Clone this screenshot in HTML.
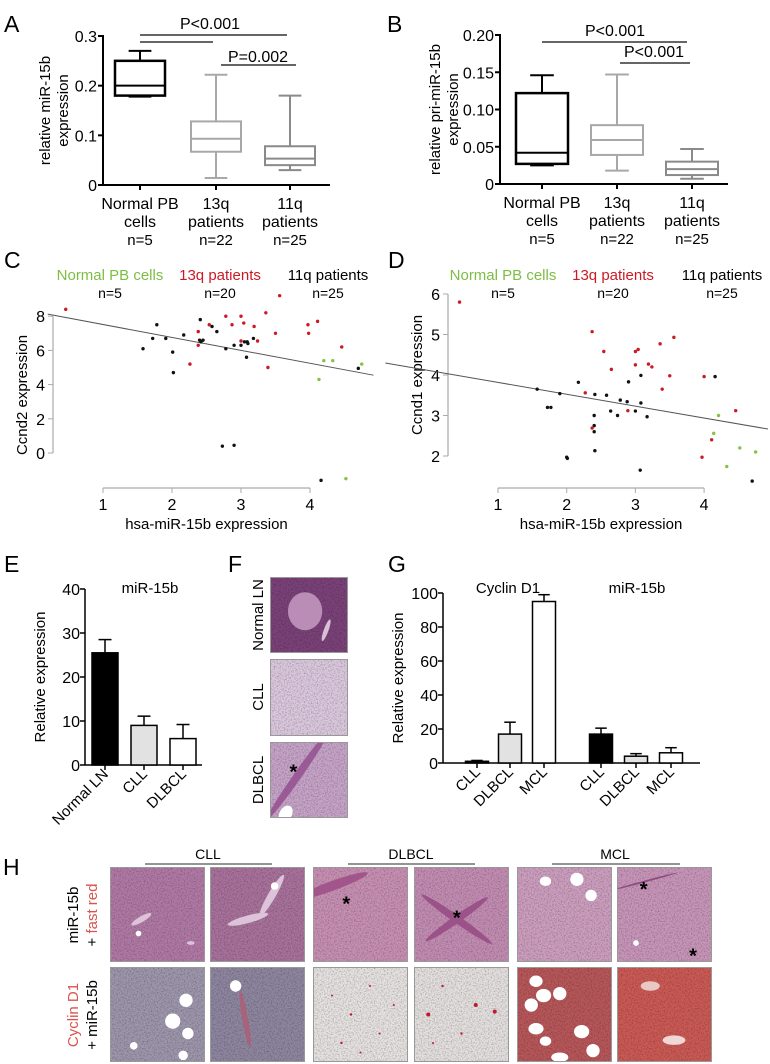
<!DOCTYPE html>
<html><head><meta charset="utf-8"><style>
body{margin:0;background:#fff}
svg{display:block;font-family:"Liberation Sans",Arial,sans-serif}
</style></head><body>
<svg id="fig" width="770" height="1064" viewBox="0 0 770 1064" xmlns="http://www.w3.org/2000/svg">
<defs>
<filter id="noise" x="0" y="0" width="100%" height="100%"><feTurbulence type="fractalNoise" baseFrequency="0.7" numOctaves="2" seed="3"/><feColorMatrix type="matrix" values="0 0 0 0 0  0 0 0 0 0  0 0 0 0 0  0 0 0 -0.6 0.35"/><feComposite in2="SourceGraphic" operator="in"/></filter>
</defs>
<g id="root"></g>
</svg>
<script>
// ---- Panel A data ----
const catsA = ["Normal PB","13q","11q"];
const boxA_max = [0.27,0.222,0.18];
const boxA_q3 = [0.25,0.128,0.078];
const boxA_med = [0.2,0.093,0.053];
const boxA_q1 = [0.18,0.067,0.04];
const boxA_min = [0.178,0.014,0.03];
const ticksA = [0,0.1,0.2,0.3];
const tickLabelsA = ["0","0.1","0.2","0.3"];
// ---- Panel B data ----
const catsB = ["Normal PB","13q","11q"];
const boxB_max = [0.146,0.147,0.047];
const boxB_q3 = [0.122,0.079,0.030];
const boxB_med = [0.042,0.059,0.020];
const boxB_q1 = [0.027,0.039,0.012];
const boxB_min = [0.025,0.018,0.007];
const ticksB = [0,0.05,0.10,0.15,0.20];
const tickLabelsB = ["0","0.05","0.10","0.15","0.20"];
// ---- Panel C data ----
const cGreenX = [4.13,4.2,4.33,4.75,4.52];
const cGreenY = [4.3,5.4,5.4,5.2,-1.5];
const cRedX = [0.46,2.38,2.54,2.78,2.87,3.0,3.04,3.19,3.36,3.56,3.5,3.97,4.11,3.98,2.26,2.38,3.0,3.24,3.39,4.46];
const cRedY = [8.4,7.1,7.5,8.0,7.5,8.0,7.6,7.4,8.2,9.2,7.0,7.5,7.7,7.0,5.2,6.3,6.55,6.55,5.0,6.2];
const cBlackX = [1.78,1.72,1.91,2.17,2.41,2.58,2.65,1.58,2.01,2.02,2.45,2.42,2.78,2.9,3.0,3.09,3.1,3.18,3.08,4.7,4.16,2.73,2.9,2.4,3.05];
const cBlackY = [7.5,6.7,6.7,6.9,7.8,7.4,7.1,6.1,5.9,4.7,6.6,6.5,6.1,6.3,6.3,6.5,6.4,6.7,5.6,4.95,-1.6,0.4,0.45,6.6,6.5];
const cFit = [8.27,-0.756]; // intercept, slope
const cYTicks = [0,2,4,6,8];
const cXTicks = [1,2,3,4];
// ---- Panel D data ----
const dGreenX = [4.21,4.14,4.52,4.75,4.33];
const dGreenY = [3.0,2.56,2.2,2.1,1.74];
const dRedX = [0.44,2.37,2.54,3.0,3.04,3.36,3.56,3.0,3.19,3.24,2.65,3.5,4.0,3.39,2.27,2.89,4.46,2.37,4.11,3.97];
const dRedY = [5.8,5.07,4.58,4.58,4.63,4.77,4.93,4.25,4.27,4.2,4.14,3.98,3.96,3.65,3.56,3.12,3.12,2.69,2.4,1.97];
const dBlackX = [1.57,1.72,1.77,1.9,2.17,2.0,2.01,2.4,2.41,2.4,2.4,2.41,2.58,2.64,2.74,2.78,2.88,2.9,3.0,3.08,3.08,3.17,3.07,4.16,4.7];
const dBlackY = [3.65,3.2,3.2,3.54,3.82,1.97,1.94,3.0,3.52,2.75,2.6,2.13,3.5,3.11,3.0,3.38,3.34,3.83,3.11,3.31,3.99,2.97,1.65,3.96,1.38];
const dFit = [4.11,-0.293];
const dYTicks = [2,3,4,5,6];
const dXTicks = [1,2,3,4];
// ---- Panel E data ----
const catsE = ["Normal LN","CLL","DLBCL"];
const valsE = [25.5,9,6];
const errE = [3,2.1,3.2];
const ticksE = [0,10,20,30,40];
// ---- Panel G data ----
const catsG = ["CLL","DLBCL","MCL","CLL","DLBCL","MCL"];
const valsG = [1,17,95,17,4,6];
const errG = [0.5,7,4,3.5,1.5,3];
const ticksG = [0,20,40,60,80,100];

const NS="http://www.w3.org/2000/svg";
const root=document.getElementById('root');
function mk(tag,attrs,parent,txt){const e=document.createElementNS(NS,tag);for(const k in attrs)e.setAttribute(k,attrs[k]);if(txt!==undefined)e.textContent=txt;(parent||root).appendChild(e);return e;}
function grp(name){const g=mk('g',{});


return g;}

// panel letters
[["A",4,32],["B",387,32],["C",4,268],["D",388,268],["E",4,572],["F",228,572],["G",388,572],["H",3,875]].forEach(p=>{
const t=mk('text',{x:p[1],y:p[2],'font-size':23,fill:'#000'},root,p[0]);


});

// ---------- box plots ----------
function boxPanel(o){
const g=grp(o.name);
const ys=v=>o.y0-(v/o.ymax)*(o.y0-o.y1);
mk('line',{x1:o.ax,y1:o.y1-1,x2:o.ax,y2:o.y0,stroke:'#000','stroke-width':2},g);
mk('line',{x1:o.ax,y1:o.y0,x2:o.xend,y2:o.y0,stroke:'#000','stroke-width':2},g);
o.ticks.forEach((v,i)=>{
mk('line',{x1:o.ax-5,y1:ys(v),x2:o.ax,y2:ys(v),stroke:'#000','stroke-width':2},g);
const t=mk('text',{x:o.ax-6,y:ys(v)+6,'font-size':16,'text-anchor':'end'},g,o.tickLabels[i]);


});
const cols=['#000','#a8a8a8','#8a8a8a'];
o.cx.forEach((cx,i)=>{
mk('line',{x1:cx,y1:o.y0,x2:cx,y2:o.y0+5,stroke:'#000','stroke-width':2},g);
const b=mk('g',{fill:'none',stroke:cols[i],'stroke-width':2},g);


const w=o.bw/2;
mk('line',{x1:cx,y1:ys(o.max[i]),x2:cx,y2:ys(o.q3[i])},b);
mk('line',{x1:cx-w/2.2,y1:ys(o.max[i]),x2:cx+w/2.2,y2:ys(o.max[i])},b);
mk('line',{x1:cx,y1:ys(o.min[i]),x2:cx,y2:ys(o.q1[i])},b);
mk('line',{x1:cx-w/2.2,y1:ys(o.min[i]),x2:cx+w/2.2,y2:ys(o.min[i])},b);
mk('rect',{x:cx-w,y:ys(o.q3[i]),width:o.bw,height:ys(o.q1[i])-ys(o.q3[i]),'stroke-width':i==0?2.5:2},b);
mk('line',{x1:cx-w,y1:ys(o.med[i]),x2:cx+w,y2:ys(o.med[i])},b);
});
const lab=[["Normal PB","cells","n=5"],["13q","patients","n=22"],["11q","patients","n=25"]];
o.cx.forEach((cx,i)=>{lab[i].forEach((s,j)=>{
const t=mk('text',{x:cx,y:o.y0+24+j*18,'font-size':j==2?15:16,'text-anchor':'middle'},g,s);


});});
const yt=mk('text',{transform:`translate(${o.ytx},${(o.y0+o.y1)/2}) rotate(-90)`,'font-size':15,'text-anchor':'middle'},g);


mk('tspan',{x:0,dy:0},yt,o.ytitle);mk('tspan',{x:0,dy:18},yt,'expression');
o.sig.forEach(s=>{mk('line',{x1:s[0],y1:s[2],x2:s[1],y2:s[2],stroke:'#333','stroke-width':1.5},g);});
o.sigText.forEach(s=>{const t=mk('text',{x:s[0],y:s[1],'font-size':16,'text-anchor':'middle'},g,s[2]);

});
}
boxPanel({name:'panel-a-boxplot',ax:103,y0:185,y1:36,ymax:0.3,xend:330,cx:[140,216,290],bw:50,ytx:50,
max:boxA_max,q3:boxA_q3,med:boxA_med,q1:boxA_q1,min:boxA_min,ticks:ticksA,tickLabels:tickLabelsA,ytitle:'relative miR-15b',
sig:[[140,287,35],[140,213,42],[221,296,65]],sigText:[[210,29,'P<0.001'],[258,62,'P=0.002']]});
boxPanel({name:'panel-b-boxplot',ax:500,y0:184,y1:35,ymax:0.2,xend:728,cx:[542,617,692],bw:52,ytx:440,
max:boxB_max,q3:boxB_q3,med:boxB_med,q1:boxB_q1,min:boxB_min,ticks:ticksB,tickLabels:tickLabelsB,ytitle:'relative pri-miR-15b',
sig:[[542,687,42],[620,690,63]],sigText:[[615,36,'P<0.001'],[654,57,'P<0.001']]});

// ---------- scatter panels ----------
function scatter(o){
const g=grp(o.name);
const sx=v=>o.x1px+(v-1)*o.xs, sy=v=>o.y0px-(v-o.ymin)*o.ys;
mk('line',{x1:o.ax,y1:sy(o.yTicks[o.yTicks.length-1]),x2:o.ax,y2:sy(o.yTicks[0]),stroke:'#aaa','stroke-width':1.2},g);
o.yTicks.forEach(v=>{mk('line',{x1:o.ax-5,y1:sy(v),x2:o.ax,y2:sy(v),stroke:'#aaa'},g);
const t=mk('text',{x:o.ax-8,y:sy(v)+6,'font-size':16,'text-anchor':'end'},g,String(v));

});
mk('line',{x1:sx(o.xTicks[0]),y1:o.xaY,x2:sx(o.xTicks[o.xTicks.length-1]),y2:o.xaY,stroke:'#aaa','stroke-width':1.2},g);
o.xTicks.forEach(v=>{mk('line',{x1:sx(v),y1:o.xaY,x2:sx(v),y2:o.xaY+5,stroke:'#aaa'},g);
const t=mk('text',{x:sx(v),y:o.xaY+22,'font-size':16,'text-anchor':'middle'},g,String(v));

});
const xt=mk('text',{x:(sx(1)+sx(4))/2,y:o.xaY+41,'font-size':15,'text-anchor':'middle'},g,'hsa-miR-15b expression');


const yt=mk('text',{transform:`translate(${o.ax-26},${o.ytitleY}) rotate(-90)`,'font-size':15,'text-anchor':'middle'},g,o.ytitle);


const fl=mk('line',{x1:sx(o.fx[0]),y1:sy(o.fit[0]+o.fit[1]*o.fx[0]),x2:sx(o.fx[1]),y2:sy(o.fit[0]+o.fit[1]*o.fx[1]),stroke:'#555','stroke-width':1},g);


[[o.bx,o.by,'#111','black'],[o.rx,o.ry,'#cc1a24','red'],[o.gx,o.gy,'#84c341','green']].forEach(s=>{
s[0].forEach((x,i)=>{const c=mk('circle',{cx:sx(x),cy:sy(s[1][i]),r:1.7,fill:s[2]},g);

});});
[["Normal PB cells",'#7dbd45',"n=5"],["13q patients",'#cc1a24',"n=20"],["11q patients",'#000',"n=25"]].forEach((l,i)=>{
const t=mk('text',{x:o.legX[i],y:280,'font-size':15,'text-anchor':'middle',fill:l[1]},g,l[0]);


const n=mk('text',{x:o.legX[i],y:298,'font-size':14,'text-anchor':'middle'},g,l[2]);

});
}
scatter({name:'panel-c-scatter',ax:53,x1px:103,xs:69,y0px:453,ymin:0,ys:17.1,xaY:488,yTicks:cYTicks,xTicks:cXTicks,
ytitle:'Ccnd2 expression',ytitleY:395,fit:cFit,fx:[0.2,4.92],bx:cBlackX,by:cBlackY,rx:cRedX,ry:cRedY,gx:cGreenX,gy:cGreenY,legX:[110,220,328]});
scatter({name:'panel-d-scatter',ax:448,x1px:498,xs:68.7,y0px:456,ymin:2,ys:40.5,xaY:488,yTicks:dYTicks,xTicks:dXTicks,
ytitle:'Ccnd1 expression',ytitleY:375,fit:dFit,fx:[-0.64,4.93],bx:dBlackX,by:dBlackY,rx:dRedX,ry:dRedY,gx:dGreenX,gy:dGreenY,legX:[503,613,722]});

// ---------- bar panels ----------
function bars(o){
const g=grp(o.name);
const sy=v=>o.y0-(v/o.ymax)*(o.y0-o.y1);
mk('line',{x1:o.ax,y1:o.y1,x2:o.ax,y2:o.y0,stroke:'#000','stroke-width':1.5},g);
mk('line',{x1:o.ax,y1:o.y0,x2:o.xend,y2:o.y0,stroke:'#000','stroke-width':1.5},g);
o.ticks.forEach(v=>{mk('line',{x1:o.ax-5,y1:sy(v),x2:o.ax,y2:sy(v),stroke:'#000','stroke-width':1.5},g);
const t=mk('text',{x:o.ax-5,y:sy(v)+6,'font-size':16,'text-anchor':'end'},g,String(v));

});
o.cats.forEach((c,i)=>{const cx=o.cx[i],w=o.bw;
mk('line',{x1:cx,y1:sy(o.vals[i]),x2:cx,y2:sy(o.vals[i]+o.err[i]),stroke:'#000','stroke-width':1.5},g);
mk('line',{x1:cx-w/4,y1:sy(o.vals[i]+o.err[i]),x2:cx+w/4,y2:sy(o.vals[i]+o.err[i]),stroke:'#000','stroke-width':1.5},g);
const r=mk('rect',{x:cx-w/2,y:sy(o.vals[i]),width:w,height:o.y0-sy(o.vals[i]),fill:o.fills[i],stroke:'#000','stroke-width':1.5},g);


mk('line',{x1:cx,y1:o.y0,x2:cx,y2:o.y0+5,stroke:'#000','stroke-width':1.5},g);
const t=mk('text',{transform:`translate(${cx+4},${o.y0+10}) rotate(-45)`,'font-size':15,'text-anchor':'end'},g,c);

});
const yt=mk('text',{transform:`translate(${o.ax-40},${(o.y0+o.y1)/2}) rotate(-90)`,'font-size':15,'text-anchor':'middle'},g,'Relative expression');


o.titles.forEach(tt=>{const t=mk('text',{x:tt[0],y:593,'font-size':15,'text-anchor':'middle'},g,tt[1]);

});
}
bars({name:'panel-e-bars',ax:85,y0:765,y1:589,ymax:40,xend:202,cats:catsE,vals:valsE,err:errE,ticks:ticksE,cx:[105,144,183],bw:26,
fills:['#000','#e2e2e2','#fff'],titles:[[150,'miR-15b']]});
bars({name:'panel-g-bars',ax:443,y0:763,y1:593,ymax:100,xend:700,cats:catsG,vals:valsG,err:errG,ticks:ticksG,cx:[477,510,544,601,636,671],bw:23,
fills:['#000','#e2e2e2','#fff','#000','#e2e2e2','#fff'],titles:[[508,'Cyclin D1'],[637,'miR-15b']]});

// ---------- histology images ----------
// blob: [cx, cy, rx(frac w), ry(frac h), color, rotation]
function tile(x,y,w,h,base,name,blobs,star,dots){
const g=mk('svg',{x:x,y:y,width:w,height:h,overflow:'hidden'});


mk('rect',{x:0,y:0,width:w,height:h,fill:base},g);
mk('rect',{x:0,y:0,width:w,height:h,fill:base,filter:'url(#noise)'},g);
(blobs||[]).forEach(b=>mk('ellipse',{cx:b[0]*w,cy:b[1]*h,rx:b[2]*w,ry:b[3]*h,fill:b[4]||'#fff',transform:`rotate(${b[5]||0} ${b[0]*w} ${b[1]*h})`},g));
(dots||[]).forEach(b=>mk('circle',{cx:b[0]*w,cy:b[1]*h,r:b[2],fill:'#c0182c'},g));
if(star)star.forEach(s=>{const t=mk('text',{x:s[0]*w,y:s[1]*h+10,'font-size':20,'text-anchor':'middle','font-weight':'bold'},g,'*');

});
mk('rect',{x:0.5,y:0.5,width:w-1,height:h-1,fill:'none',stroke:'#999','stroke-width':1},g);
}
// F
tile(270,577,78,76,'#7b4279','f-normal-ln-image',[[0.45,0.45,0.22,0.25,'#b98db6'],[0.72,0.7,0.03,0.15,'#d8bfd6',20]]);
tile(270,659,78,77,'#dcc9df','f-cll-image');
tile(270,742,78,76,'#c7a4c9','f-dlbcl-image',[[0.35,0.45,0.05,0.7,'#9a5a96',35],[0.2,0.95,0.08,0.12,'#fff',30]],[[0.3,0.35]]);
[["Normal LN",615],["CLL",697],["DLBCL",780]].forEach(l=>{const t=mk('text',{transform:`translate(263,${l[1]}) rotate(-90)`,'font-size':15,'text-anchor':'middle'},root,l[0]);

});
// H
const hx=[110,210,313,414,517,617], hw=95;
tile(hx[0],867,hw,95,'#b17aa6','h-cll-mir-1',[[0.33,0.55,0.12,0.03,'#dcc3da',-30],[0.3,0.7,0.03,0.03],[0.85,0.8,0.04,0.02,'#dcc3da']]);
tile(hx[1],867,hw,95,'#a9729c','h-cll-mir-2',[[0.4,0.55,0.22,0.04,'#dcc3da',-15],[0.65,0.3,0.04,0.25,'#dcc3da',30],[0.68,0.2,0.04,0.04]]);
tile(hx[2],867,hw,95,'#c890b3','h-dlbcl-mir-1',[[0.2,0.2,0.4,0.05,'#a2558a',-20]],[[0.35,0.35]]);
tile(hx[3],867,hw,95,'#c38db3','h-dlbcl-mir-2',[[0.45,0.55,0.45,0.04,'#9b5289',35],[0.45,0.55,0.4,0.04,'#9b5289',-35]],[[0.45,0.5]]);
tile(hx[4],867,hw,95,'#cd9fbf','h-mcl-mir-1',[[0.3,0.15,0.06,0.05],[0.63,0.13,0.07,0.07],[0.78,0.3,0.06,0.06]]);
tile(hx[5],867,hw,95,'#c996ba','h-mcl-mir-2',[[0.2,0.8,0.03,0.03],[0.3,0.15,0.35,0.01,'#8e4a7f',-15]],[[0.28,0.2],[0.8,0.9]]);
tile(hx[0],967,hw,95,'#9e97ad','h-cll-cyc-1',[[0.8,0.35,0.07,0.07],[0.66,0.57,0.08,0.08],[0.82,0.7,0.06,0.06],[0.25,0.83,0.04,0.04],[0.77,0.93,0.05,0.05]]);
tile(hx[1],967,hw,95,'#8f86a0','h-cll-cyc-2',[[0.27,0.2,0.06,0.06],[0.37,0.55,0.03,0.3,'#a8627a',-10]]);
tile(hx[2],967,hw,95,'#e7e3e3','h-dlbcl-cyc-1',null,null,[[0.2,0.3,1],[0.4,0.5,1.2],[0.6,0.2,1],[0.7,0.7,1],[0.3,0.8,1.2],[0.85,0.4,1],[0.5,0.9,1]]);
tile(hx[3],967,hw,95,'#e5e1e0','h-dlbcl-cyc-2',null,null,[[0.15,0.5,2],[0.65,0.4,2],[0.85,0.47,2],[0.3,0.2,1.2],[0.5,0.7,1.2],[0.2,0.8,1]]);
tile(hx[4],967,hw,95,'#b8575a','h-mcl-cyc-1',[[0.2,0.15,0.07,0.06],[0.28,0.3,0.08,0.07],[0.15,0.4,0.07,0.07],[0.45,0.28,0.07,0.07],[0.2,0.65,0.08,0.06],[0.3,0.78,0.06,0.05],[0.68,0.68,0.08,0.07],[0.8,0.88,0.07,0.07],[0.45,0.95,0.09,0.05]]);
tile(hx[5],967,hw,95,'#cc5a55','h-mcl-cyc-2',[[0.6,0.77,0.12,0.05,'#f0d8d6'],[0.35,0.2,0.1,0.05,'#e8c8c4']]);
[["CLL",208,145,272],["DLBCL",411,348,475],["MCL",615,552,680]].forEach(h=>{
const t=mk('text',{x:h[1],y:859,'font-size':14,'text-anchor':'middle'},root,h[0]);


mk('line',{x1:h[2],y1:864,x2:h[3],y2:864,stroke:'#555','stroke-width':1.3});});
const r1=mk('text',{transform:'translate(80,915) rotate(-90)','font-size':15,'text-anchor':'middle'});


mk('tspan',{x:0,dy:-2},r1,'miR-15b');mk('tspan',{x:0,dy:19},r1,'+ ');mk('tspan',{fill:'#d9534f'},r1,'fast red');
const r2=mk('text',{transform:'translate(80,1015) rotate(-90)','font-size':15,'text-anchor':'middle'});


mk('tspan',{x:0,dy:-2,fill:'#d9534f'},r2,'Cyclin D1');mk('tspan',{x:0,dy:19},r2,'+ miR-15b');
</script>
</body></html>
